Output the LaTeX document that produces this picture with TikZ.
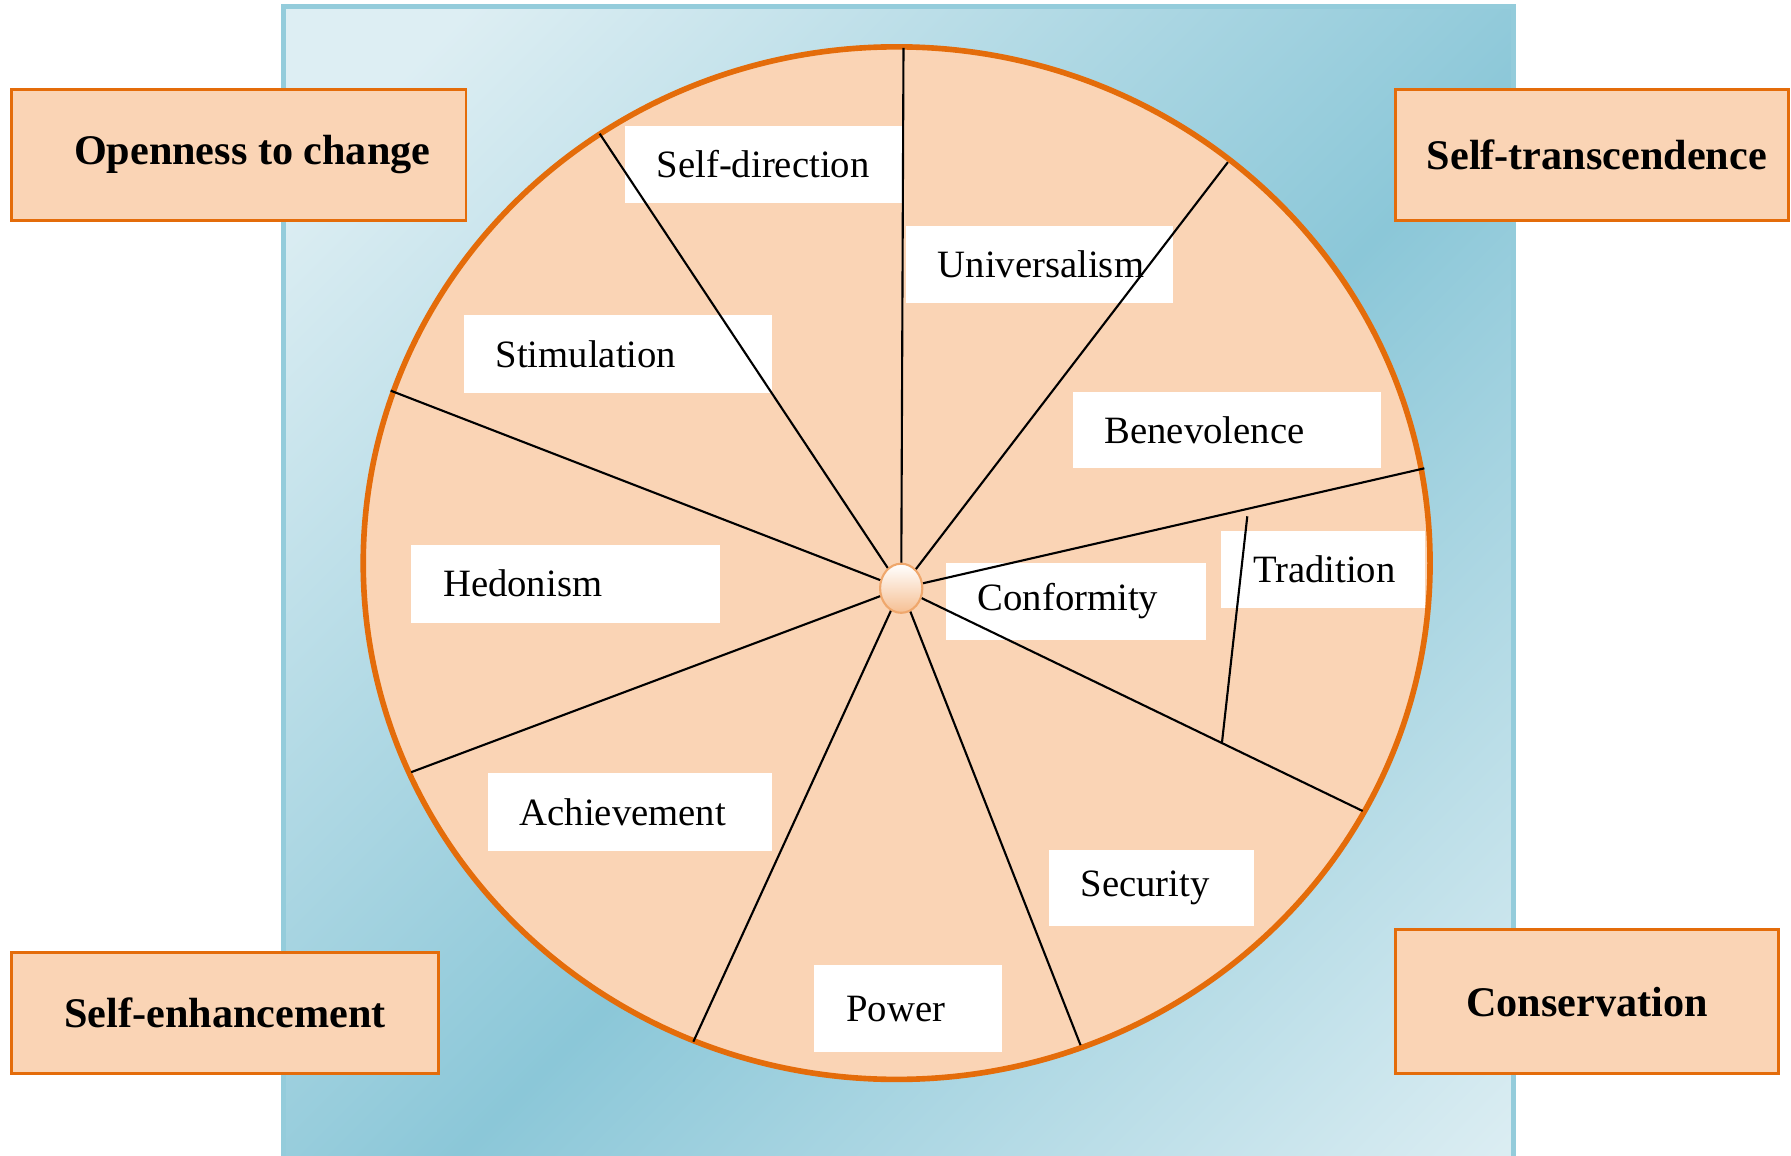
\documentclass[tikz,border=0pt]{standalone}
\usepackage{fontspec}
\setmainfont{Liberation Serif}
\usetikzlibrary{shapes.geometric,calc}

\definecolor{peach}{RGB}{250,212,181}
\definecolor{wheelorange}{RGB}{228,108,10}
\definecolor{bglight}{RGB}{221,238,243}
\definecolor{bgdark}{RGB}{139,199,216}
\definecolor{bgedge}{RGB}{148,204,219}

% one pixel of the layout grid
\newcommand{\pxsize}{0.01142cm}

\pgfdeclarehorizontalshading{bgshade}{100bp}{color(0bp)=(bglight); color(20bp)=(bglight); color(54bp)=(bgdark); color(86bp)=(bglight); color(100bp)=(bglight)}

\begin{document}
\begin{tikzpicture}[
    x=0.01142cm, y=-0.01142cm,
    % white value boxes: width/height in grid pixels, text flush left
    valbox/.style 2 args={fill=white, font=\fontsize{11}{13}\selectfont, align=left, inner xsep=28*\pxsize, inner ysep=0pt, text width=(#1-56)*\pxsize, minimum height=#2*\pxsize},
    % the four higher-order groups in the corners
    groupbox/.style 2 args={fill=peach, draw=wheelorange, line width=0.8pt, font=\fontsize{12}{14}\selectfont\bfseries, inner sep=0pt, minimum width=#1*\pxsize, minimum height=#2*\pxsize},
    spoke/.style={draw=black, line width=0.6pt},
    hubball/.style={ellipse, draw=wheelorange!60, line width=0.6pt, top color=white, bottom color=peach!80!wheelorange, inner sep=0pt, minimum width=37*\pxsize, minimum height=43*\pxsize}
  ]
    \useasboundingbox (0,0) rectangle (1568,1012);

    %--- Background panel and wheel ---
    \shade[shading=bgshade, shading angle=-45] (248,6) rectangle (1325,1012);
    \draw[bgedge, line width=1.4pt] (248,1012) -- (248,6) -- (1325,6) -- (1325,1012);
    \draw[fill=peach, draw=wheelorange, line width=1.6pt] (785,493) ellipse [x radius=467, y radius=452];

    %--- Value boxes ---
    \node[valbox={243}{68}] (selfdir) at (668.5,144)   {Self-direction};
    \node[valbox={234}{67}] (univ)    at (910,231.5)   {Universalism};
    \node[valbox={270}{68}] (stim)    at (541,310)     {Stimulation};
    \node[valbox={270}{67}] (benev)   at (1074,376.5)  {Benevolence};
    \node[valbox={270}{68}] (hedon)   at (495,511)     {Hedonism};
    \node[valbox={228}{67}] (conf)    at (942,526.5)   {Conformity};
    \node[valbox={179}{67}] (trad)    at (1158.5,498.5){Tradition};
    \node[valbox={249}{68}] (achiev)  at (551.5,711)   {Achievement};
    \node[valbox={180}{67}] (secur)   at (1008,777.5)  {Security};
    \node[valbox={164}{76}] (power)   at (795,883)     {Power};

    %--- Spokes: hub to rim ---
    \coordinate (hub) at (789,515);
    \foreach \x/\y [count=\i] in {791/42, 1075/142, 1247/410, 1193/710, 946/915, 607/912, 360/676, 342/342, 525/117}
      \coordinate (rim\i) at (\x,\y);
    \foreach \i in {1,...,9}
      \draw[spoke] (hub) -- (rim\i);

    % split between Tradition and Conformity
    \coordinate (tradtop) at (1092,452);
    \coordinate (tradfoot) at ($(hub)!0.695!(rim4)$);
    \draw[spoke] (tradtop) -- (tradfoot);

    \node[hubball] (ball) at (hub) {};

    %--- Corner groups ---
    \node[groupbox={398}{115}] (openness)  at (209,135.5)  {\hspace*{0.27cm}Openness to change};
    \node[groupbox={344}{115}] (selftrans) at (1394,135.5) {\hspace*{0.09cm}Self-transcendence};
    \node[groupbox={374}{106}] (selfenh)   at (197,887)    {Self-enhancement};
    \node[groupbox={335}{126}] (conserv)   at (1389.5,877) {Conservation};
\end{tikzpicture}
\end{document}
